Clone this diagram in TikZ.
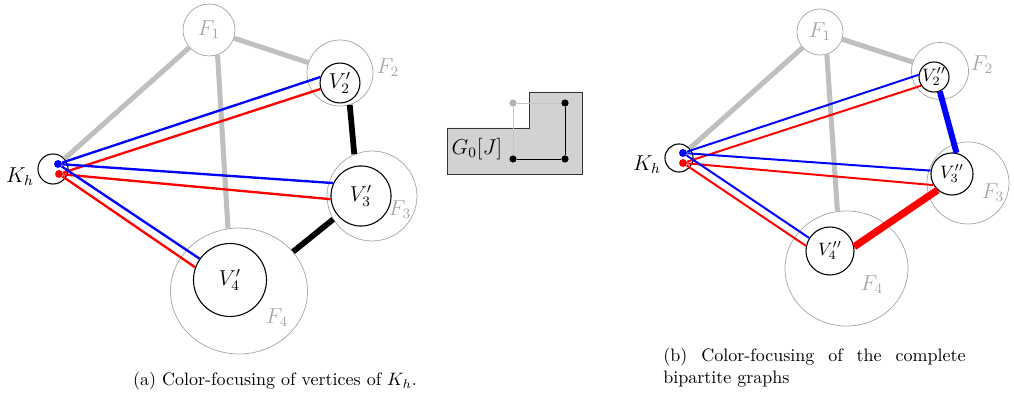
\documentclass[tikz,border=0pt]{standalone}
\usepackage{tikz}
\usetikzlibrary{shapes.geometric}

\begin{document}
\begin{tikzpicture}[x=0.556pt, y=-0.556pt,
    lbl/.style={font=\fontsize{11.5}{14}\selectfont},
    fset/.style={circle, draw=gray!70, thin, inner sep=0pt, text=gray!70, lbl},
    fell/.style={ellipse, draw=gray!70, thin, inner sep=0pt},
    flabel/.style={text=gray!70, inner sep=0pt, lbl},
    vset/.style={circle, draw, semithick, inner sep=0pt, lbl},
    grayedge/.style={gray!50, line width=2.8pt},
    blackedge/.style={black, line width=3.2pt},
    blueedge/.style={blue, line width=1.3pt},
    rededge/.style={red, line width=1.3pt},
    kdot/.style={circle, fill, inner sep=0pt, minimum size=4.4pt},
    gdot/.style={circle, fill, inner sep=0pt, minimum size=4pt}]
    \useasboundingbox (0,0) rectangle (1014,396);

    % (a) vertices of K_h
    \node[fset, minimum size=28.9pt] (F1) at (209,30) {$F_1$};
    \node[fset, minimum size=36.7pt] (F2) at (340,73) {};
    \node[flabel] (F2l) at (388,68) {$F_2$};
    \node[fset, minimum size=50pt] (F3) at (372,196) {};
    \node[flabel] (F3l) at (400,210) {$F_3$};
    \node[fell, minimum width=76.2pt, minimum height=70pt] (F4) at (239,291) {};
    \node[flabel] (F4l) at (277,318) {$F_4$};
    \node[vset, minimum size=22.2pt] (V2) at (340,83) {$V_2'$};
    \node[vset, minimum size=33.4pt] (V3) at (361,196) {$V_3'$};
    \node[vset, minimum size=40.6pt] (V4) at (230,280) {$V_4'$};
    \node[vset, minimum size=16.7pt] (Kh) at (53,169) {};
    \node[lbl] (Khl) at (20,177) {$K_h$};
    \node[kdot, blue] (kb) at (58,164) {};
    \node[kdot, red] (kr) at (59,174) {};

    \draw[grayedge] (F1) -- (Kh);
    \draw[grayedge] (F1) -- (F2);
    \draw[grayedge] (F1.-71) -- (F4.100);
    \draw[blackedge] (F2.-73) -- (F3.113);
    \draw[blackedge] (F3.211) -- (F4.36);
    \draw[blueedge] (kb) -- (V2.163);
    \draw[rededge] (kr) -- (V2.197);
    \draw[blueedge] (kb) -- (V3.155);
    \draw[rededge] (kr) -- (V3.186);
    \draw[blueedge] (kb) -- (V4.145);
    \draw[rededge] (kr) -- (V4.160);

    \node (capa) at (275,381) {(a) Color-focusing of vertices of $K_h$.};

    % G_0[J]
    \filldraw[fill=gray!35, draw=black!80] (447,128) -- (529,128) -- (529,92)
        -- (582,92) -- (582,174) -- (447,174) -- cycle;
    \node[gdot, gray!60] (ga) at (513,103) {};
    \node[gdot] (gb) at (565,103) {};
    \node[gdot] (gc) at (513,159) {};
    \node[gdot] (gd) at (565,159) {};
    \draw[gray!45] (ga) -- (gb);
    \draw[gray!45] (ga) -- (gc);
    \draw (gb) -- (gd);
    \draw (gc) -- (gd);
    \node[lbl] (G0) at (477,149) {$G_0[J]$};

    % (b) complete bipartite graphs
    \node[fset, minimum size=25.6pt] (F1b) at (820,32) {$F_1$};
    \node[fset, minimum size=31.7pt] (F2b) at (940,71) {};
    \node[flabel] (F2bl) at (982,65) {$F_2$};
    \node[fset, minimum size=45.6pt] (F3b) at (968,183) {};
    \node[flabel] (F3bl) at (993,193) {$F_3$};
    \node[fell, minimum width=68.4pt, minimum height=64pt] (F4b) at (846.5,268.5) {};
    \node[flabel] (F4bl) at (872,285) {$F_4$};
    \node[vset, minimum size=16.7pt, font=\normalsize] (V2b) at (934,77) {$V_2''$};
    \node[vset, minimum size=23.4pt, font=\normalsize] (V3b) at (952,174) {$V_3''$};
    \node[vset, minimum size=26.7pt, font=\normalsize] (V4b) at (830,251) {$V_4''$};
    \node[vset, minimum size=15.6pt] (Khb) at (679,158) {};
    \node[lbl] (Khbl) at (647,165) {$K_h$};
    \node[kdot, blue] (kbb) at (683,153) {};
    \node[kdot, red] (krb) at (683,163) {};

    \draw[grayedge] (F1b) -- (Khb);
    \draw[grayedge] (F1b) -- (F2b);
    \draw[grayedge] (F1b.-73) -- (F4b.99);
    \draw[blue, line width=3.3pt] (V2b.-68) -- (V3b.78);
    \draw[red, line width=4pt] (V3b.228) -- (V4b.10);
    \draw[blueedge, line width=1.1pt] (kbb) -- (V2b.172);
    \draw[rededge, line width=1.1pt] (krb) -- (V2b.214);
    \draw[blueedge, line width=1.1pt] (kbb) -- (V3b.171);
    \draw[rededge, line width=1.1pt] (krb) -- (V3b.211);
    \draw[blueedge, line width=1.1pt] (kbb) -- (V4b.148);
    \draw[rededge, line width=1.1pt] (krb) -- (V4b.168);

    \node[anchor=north west, align=left, inner sep=0pt] (capb) at (663,348)
        {\makebox[168pt][s]{(b) Color-focusing of the complete}\\bipartite graphs};
\end{tikzpicture}
\end{document}
